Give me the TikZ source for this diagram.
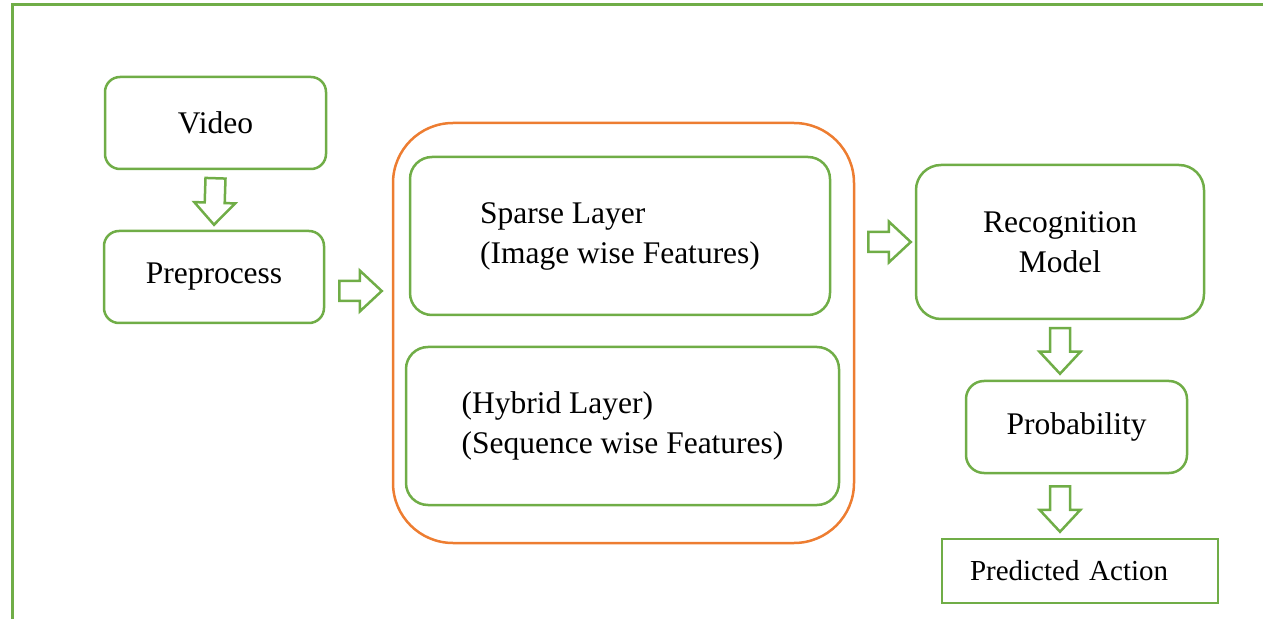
\documentclass[tikz,border=0pt]{standalone}
\usepackage{fontspec}
\setmainfont{Liberation Serif}
\usetikzlibrary{calc}

\definecolor{boxgreen}{HTML}{70AD47}
\definecolor{layerorange}{HTML}{ED7D31}

% hollow block arrow from #1 to the tip #2
\newcommand{\fatarrow}[2]{%
  \coordinate (fb) at ($(#2)!22pt!(#1)$);
  \draw[fat] ($(#1)!10pt!90:(#2)$) -- ($(fb)!10pt!90:(#2)$) -- ($(fb)!20.5pt!90:(#2)$) -- (#2)
    -- ($(fb)!20.5pt!-90:(#2)$) -- ($(fb)!10pt!-90:(#2)$) -- ($(#1)!10pt!-90:(#2)$) -- cycle;}

\begin{document}
\begin{tikzpicture}[x=1pt,y=1pt,
  box/.style={draw=boxgreen, line width=2.5pt, rounded corners=#1, inner sep=0pt,
    font=\fontsize{31.5}{40}\selectfont},
  box/.default=15pt,
  fat/.style={draw=boxgreen, line width=2.5pt, line join=miter},
  frame/.style={draw=boxgreen, line width=3pt}]

\useasboundingbox (0,0) rectangle (1263,619);
\draw[frame] (12,0) -- (12,614) -- (1263,614);

\node[box, minimum width=221pt, minimum height=92pt] (video) at (215.5,496) {Video};
\node[box, minimum width=220pt, minimum height=92pt] (prep) at (214,342) {Preprocess};

\node[box=60pt, draw=layerorange, minimum width=461pt, minimum height=420pt] (layers) at (623.5,286) {};
\node[box=22pt, minimum width=420pt, minimum height=158pt, align=left] (sparse) at (620,383)
  {Sparse Layer\\(Image wise Features)};
\node[box=22pt, minimum width=433pt, minimum height=158pt, align=left] (hybrid) at (622.5,193)
  {(Hybrid Layer)\\(Sequence wise Features)};

\node[box=25pt, minimum width=288pt, minimum height=154pt, align=center] (recog) at (1060,377)
  {Recognition\\Model};
\node[box=18pt, minimum width=221pt, minimum height=92pt] (prob) at (1076.5,192) {Probability};
\node[box=0pt, text width=220pt, inner xsep=28pt, minimum height=64pt, align=left,
  font=\fontsize{29}{34}\selectfont] (pred) at (1080,48) {Predicted Action};

\coordinate (a1s) at ([yshift=-8pt]video.south);
\coordinate (a1t) at ([yshift=5pt]prep.north);
\coordinate (a2s) at ([shift={(14pt,-14pt)}]prep.east);
\coordinate (a2t) at ([xshift=-10pt]a2s -| layers.west);
\coordinate (a3t) at ([xshift=-4pt]recog.west);
\coordinate (a3s) at ([xshift=13pt]a3t -| layers.east);
\coordinate (a4s) at ([yshift=-8pt]recog.south);
\coordinate (a4t) at ([yshift=6pt]a4s |- prob.north);
\coordinate (a5s) at ([yshift=-12pt]prob.south -| a4s);
\coordinate (a5t) at ([yshift=6pt]pred.north -| a4s);

\fatarrow{a1s}{a1t}
\fatarrow{a2s}{a2t}
\fatarrow{a3s}{a3t}
\fatarrow{a4s}{a4t}
\fatarrow{a5s}{a5t}

\end{tikzpicture}
\end{document}
